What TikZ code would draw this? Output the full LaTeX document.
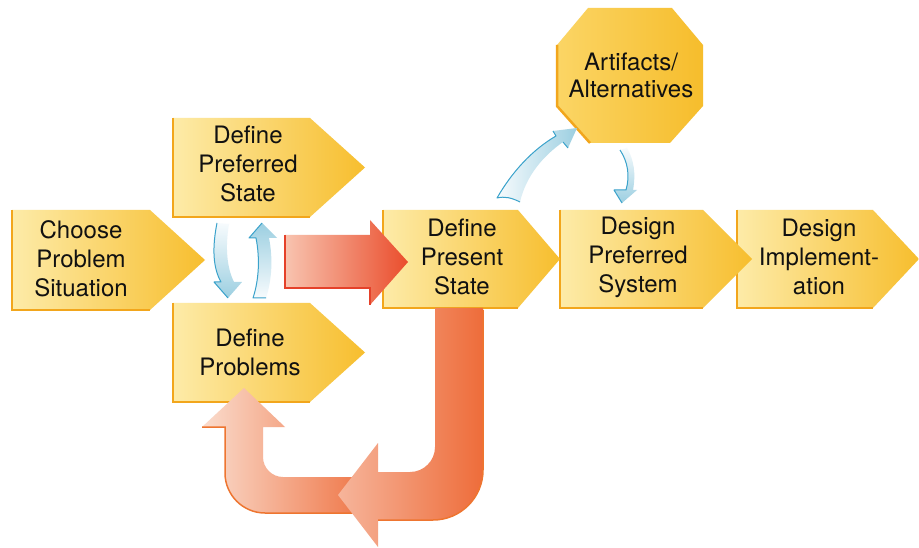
\documentclass[tikz,border=0pt]{standalone}
\usepackage{fontspec}
\setmainfont{TeX Gyre Heros}
\usetikzlibrary{calc}
\definecolor{boxA}{HTML}{FDEBA8}
\definecolor{boxB}{HTML}{F7BE2E}
\definecolor{boxEdge}{HTML}{F2A61C}
\definecolor{octA}{HTML}{FBD565}
\definecolor{octB}{HTML}{F6BD2C}
\definecolor{redA}{HTML}{F8C4B0}
\definecolor{redB}{HTML}{EA4D2C}
\definecolor{redEdge}{HTML}{E5412A}
\definecolor{orA}{HTML}{F6B59B}
\definecolor{orB}{HTML}{EE6C3A}
\definecolor{orC}{HTML}{FADCCD}
\definecolor{orEdge}{HTML}{EE7530}
\definecolor{blA}{HTML}{F7FBFD}
\definecolor{blB}{HTML}{9CCFE1}
\definecolor{blEdge}{HTML}{3AA2CB}
\definecolor{txt}{HTML}{111111}
\tikzset{
  boxfill/.style={left color=boxA, right color=boxB},
  boxedge/.style={draw=boxEdge, line width=2.5pt, line join=miter},
  octfill/.style={left color=octA, right color=octB},
  lbl/.style={font=\fontsize{24}{29}\selectfont, text=txt, align=center, inner sep=0pt},
  redfill/.style={left color=redA, right color=redB},
  rededge/.style={draw=redEdge, line width=2.5pt, line join=miter},
  uafill/.style={left color=orA, right color=orB},
  ubfill/.style={left color=orC, right color=orB},
  oredge/.style={draw=orEdge, line width=1.5pt},
  bledge/.style={draw=blEdge, line width=1pt, line join=round},
}
\newcommand\pentbox[6]{%
  \path[boxfill] (#2,#3) -- (#4,#3) -- (#5,{(#3+#6)/2}) -- (#4,#6) -- (#2,#6) -- cycle;
  \draw[boxedge] (#2,#3) -- (#2,#6) -- (#4,#6);
  \coordinate (#1-nw) at (#2,#3);
  \coordinate (#1-sw) at (#2,#6);
  \coordinate (#1-tip) at (#5,{(#3+#6)/2});
}
\begin{document}
\begin{tikzpicture}[x=1pt,y=-1pt]
\useasboundingbox (0,0) rectangle (919,548);
\fill[white] (0,0) rectangle (919,548);

% boxes (right to left so tips lie over the next box)
\pentbox{di}{737}{210}{873}{919}{308}
\pentbox{dp}{560}{210}{703}{752}{308}
\pentbox{ps}{383}{210}{518}{560}{308}
\pentbox{pp}{173}{303}{310}{365}{402}
\pentbox{pr}{173}{118}{310}{365}{217}
\pentbox{cp}{12}{210}{150}{205}{310}

% octagon
\path[octfill] (588,8) -- (672,8) -- (703,45) -- (703,106) -- (670,143) -- (590,143) -- (557,106) -- (557,45) -- cycle;
\draw[boxedge] (557,45) -- (557,106) -- (590,143);

% texts
\node[lbl] (cpt) at (81,259) {Choose\\Problem\\Situation};
\node[lbl] (prt) at (248,164) {Define\\Preferred\\State};
\node[lbl] (ppt) at (250,352) {Define\\Problems};
\node[lbl] (pst) at (462,257) {Define\\Present\\State};
\node[lbl] (dpt) at (638,257) {Design\\Preferred\\System};
\node[lbl] (dit) at (819,257) {Design\\Implement-\\ation};
\node[lbl, font=\fontsize{24}{27}\selectfont] (art) at (631,75) {Artifacts/\\Alternatives};

% red straight arrow
\path[redfill] (285,235) -- (370,235) -- (370,220) -- (408,262) -- (370,305) -- (370,288) -- (285,288) -- cycle;
\draw[rededge] (285,235) -- (285,288) -- (370,288) -- (370,305);

% lower return arrow (behind)
\path[ubfill] (380,513) -- (265,513) .. controls (243,513) and (225,495) .. (225,473) -- (225,427) -- (202,427) -- (244,388) -- (285,427) -- (263,427) -- (263,457) .. controls (263,468) and (272,477) .. (283,477) -- (380,477) -- cycle;
\draw[oredge] (202,427) -- (225,427) -- (225,473) .. controls (225,495) and (243,513) .. (265,513) -- (380,513);

% U arrow from present state
\path[uafill] (435,308) -- (483,308) -- (483,470) .. controls (483,497.6) and (460.6,520) .. (433,520) -- (378,520) -- (378,547) -- (338,495) -- (378,443) -- (378,472) -- (410,472) .. controls (423.8,472) and (435,460.8) .. (435,447) -- cycle;
\draw[oredge] (483,310) -- (483,470) .. controls (483,497.6) and (460.6,520) .. (433,520) -- (378,520);

% blue arrows
% preferred -> problems (down)
\path[top color=blA, bottom color=blB] (217,223) .. controls (212,248) and (213,268) .. (221,282) -- (214,282) -- (228,298) -- (242,282) -- (234,282) .. controls (227,268) and (225,248) .. (229,224) -- cycle;
\draw[bledge] (217,223) .. controls (212,248) and (213,268) .. (221,282) -- (214,282) -- (228,298);
% problems -> preferred (up)
\path[top color=blB, bottom color=blA] (253,298) .. controls (259,280) and (260,258) .. (256,238) -- (249,238) -- (262,223) -- (277,238) -- (269,238) .. controls (273,258) and (272,280) .. (266,298) -- cycle;
\draw[bledge] (266,298) -- (253,298) .. controls (259,280) and (260,258) .. (256,238) -- (249,238) -- (262,223);
% present -> artifacts
\path[left color=blA, middle color=blA!60!blB, right color=blB] (497,198) .. controls (512,172) and (532,150) .. (556,136) -- (553,131) -- (577,128) -- (568,148) -- (563,142) .. controls (543,156) and (526,176) .. (520,202) .. controls (512,198) and (505,196) .. cycle;
\draw[bledge] (520,202) .. controls (512,198) and (505,196) .. (497,198) .. controls (512,172) and (532,150) .. (556,136) -- (553,131);
\draw[bledge] (568,148) -- (563,142);
% artifacts -> design preferred
\path[top color=blA, bottom color=blB] (620,150) .. controls (628,162) and (630,176) .. (626,190) -- (614,190) -- (622,203) -- (637,190) -- (633,190) .. controls (636,174) and (634,160) .. (627,148) -- cycle;
\draw[bledge] (620,150) .. controls (628,162) and (630,176) .. (626,190) -- (614,190) -- (622,203);
\end{tikzpicture}
\end{document}
